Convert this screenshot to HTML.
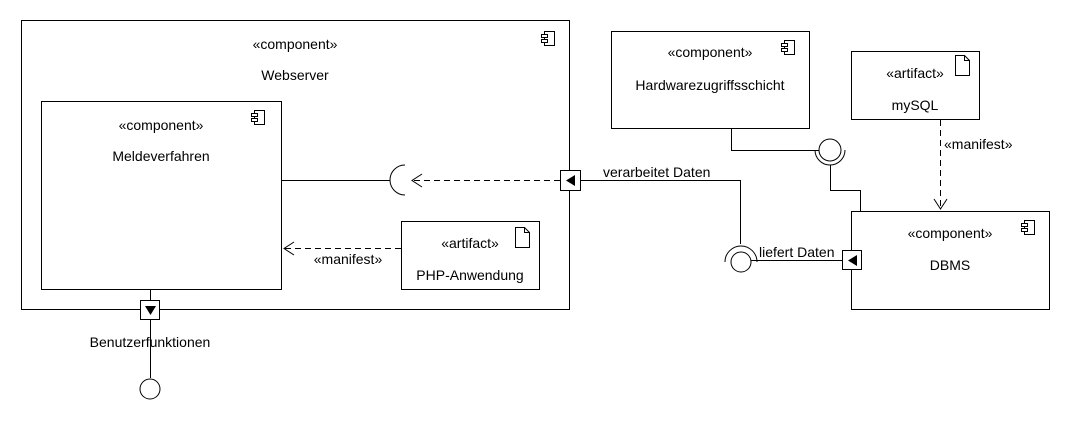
<!DOCTYPE html>
<html><head><style>body{margin:0;background:#fff}svg{display:block}text{font-family:"Liberation Sans",sans-serif;font-size:14px;fill:#000}</style></head><body>
<svg width="1070" height="430" viewBox="0 0 1070 430" xmlns="http://www.w3.org/2000/svg">
<defs>
<g id="ci"><rect x="3" y="0" width="10" height="14" fill="#fff" stroke="#000"/><rect x="0" y="3" width="6" height="3" fill="#fff" stroke="#000"/><rect x="0" y="8" width="6" height="3" fill="#fff" stroke="#000"/></g>
<g id="ai"><path d="M0,0 H9 L14,5 V20 H0 Z M9,0 V5 H14" fill="#fff" stroke="#000"/></g>
</defs>
<g fill="none" stroke="#000" stroke-width="1">
<rect x="21.5" y="20.5" width="548" height="289"/>
<rect x="41.5" y="101.5" width="240" height="188"/>
<rect x="401.5" y="221.5" width="138" height="68"/>
<rect x="611.5" y="31.5" width="198" height="97"/>
<rect x="851.5" y="51.5" width="128" height="68"/>
<rect x="851.5" y="211.5" width="198" height="98"/>
<path d="M281.5,180.5 H390"/>
<path d="M405,165 A15,15 0 0 0 405,195"/>
<path d="M560,180.5 H412" stroke-dasharray="6,4"/>
<path d="M422,174 L412,180.5 L422,187"/>
<path d="M401,248.5 H284" stroke-dasharray="6,4"/>
<path d="M294,242 L284,248.5 L294,255"/>
<path d="M731.5,128 V150.5 H819"/>
<circle cx="830" cy="150" r="11"/>
<path d="M815,150 A15,15 0 0 0 845,150"/>
<path d="M830.5,165 V190.5 H860.5 V211"/>
<path d="M580,180.5 H740.5 V244"/>
<path d="M725,262 A16,16 0 0 1 757,262"/>
<circle cx="741" cy="262" r="10"/>
<path d="M751,260.5 H842"/>
<path d="M940.5,120 V209" stroke-dasharray="6,4"/>
<path d="M934,199 L940.5,209 L947,199"/>
<path d="M150.5,290 V300 M150.5,320 V378"/>
<circle cx="150" cy="389" r="10"/>
</g>
<rect x="560.5" y="170.5" width="20" height="20" fill="#fff" stroke="#000"/>
<path d="M575,175 V186 L566,180.5 Z" fill="#000"/>
<rect x="842.5" y="250.5" width="19" height="19" fill="#fff" stroke="#000"/>
<path d="M857,255 V266 L848,260.5 Z" fill="#000"/>
<rect x="140.5" y="300.5" width="19" height="19" fill="#fff" stroke="#000"/>
<path d="M145,306 H156 L150.5,315 Z" fill="#000"/>
<use href="#ci" x="541.5" y="31.5"/>
<use href="#ci" x="251.5" y="110.5"/>
<use href="#ci" x="781.5" y="40.5"/>
<use href="#ci" x="1021.5" y="220.5"/>
<use href="#ai" x="515.5" y="227.5"/>
<use href="#ai" x="955.5" y="55.5"/>
<text x="295" y="49" text-anchor="middle">«component»</text>
<text x="295" y="80" text-anchor="middle">Webserver</text>
<text x="161" y="130" text-anchor="middle">«component»</text>
<text x="161" y="161" text-anchor="middle">Meldeverfahren</text>
<text x="470" y="248" text-anchor="middle">«artifact»</text>
<text x="470" y="280" text-anchor="middle">PHP-Anwendung</text>
<text x="348" y="264" text-anchor="middle">«manifest»</text>
<text x="710" y="57" text-anchor="middle">«component»</text>
<text x="710" y="90" text-anchor="middle">Hardwarezugriffsschicht</text>
<text x="915" y="78" text-anchor="middle">«artifact»</text>
<text x="915" y="110" text-anchor="middle">mySQL</text>
<text x="944" y="149">«manifest»</text>
<text x="950" y="238" text-anchor="middle">«component»</text>
<text x="950" y="270" text-anchor="middle">DBMS</text>
<text x="603" y="177">verarbeitet Daten</text>
<text x="759" y="257">liefert Daten</text>
<text x="150" y="347" text-anchor="middle">Benutzerfunktionen</text>
</svg>
</body></html>
